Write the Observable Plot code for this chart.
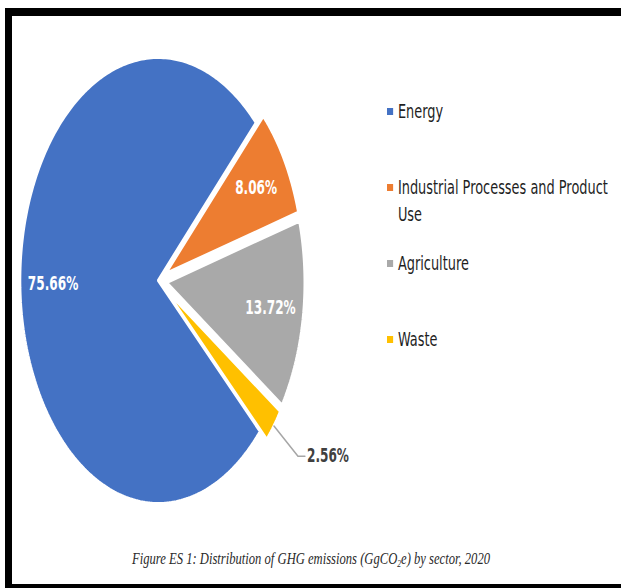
<!DOCTYPE html>
<html>
<head>
<meta charset="utf-8">
<script src="https://cdn.jsdelivr.net/npm/d3@7"></script>
<script src="https://cdn.jsdelivr.net/npm/@observablehq/plot@0.6"></script>
<style>
  html, body { margin: 0; padding: 0; background: #fff; width: 621px; height: 588px; overflow: hidden; position: relative; }
  #frame { position: absolute; left: 5px; top: 8px; width: 640px; height: 568px;
           border-top: 8px solid #000; border-left: 7px solid #000; border-bottom: 4px solid #000; background: #fff; }
  #chart { position: absolute; left: 0; top: 0; }
  #legend { position: absolute; left: 387px; top: 98px; transform: scaleX(0.68); transform-origin: 0 0;
            font-family: "DejaVu Sans", sans-serif; font-size: 19px; color: #1f1f1f; }
  .item { display: flex; align-items: flex-start; height: 76px; }
  .sw { width: 9px; height: 7px; margin-top: 10px; margin-right: 7px; flex: none; }
  .lab { line-height: 27px; width: 330px; }
  #caption { position: absolute; left: 132px; top: 549px; white-space: nowrap; display: inline-block;
             font-family: "Liberation Serif", serif; font-style: italic; font-size: 16.5px; line-height: 20px;
             color: #2a2a2a; transform-origin: 0 0; }
  #caption sub { font-size: 10px; vertical-align: -3px; line-height: 0; }
</style>
</head>
<body>
<div id="frame"></div>
<div id="chart"></div>
<div id="legend"></div>
<div id="caption">Figure ES 1: Distribution of GHG emissions (GgCO<sub>2</sub>e) by sector, 2020</div>
<script>
// ---- data ----
const sectors = ["Energy", "Industrial Processes and Product Use", "Agriculture", "Waste"];
const shares = [75.66, 8.06, 13.72, 2.56];
const colors = ["#4472C4", "#ED7D31", "#A9A9A9", "#FFC000"];

// ---- chart settings ----
const firstSliceAngle = 132.6;   // degrees clockwise from 12 o'clock
const explode = 0.06;            // explosion of the non-first slices (fraction of radius)
const W = 1000, H = 540, cx = 254.4, cy = 280, R = 223, screenW = 621;

const total = d3.sum(shares);
const rad = (d) => d * Math.PI / 180;
let acc = firstSliceAngle;
const slices = sectors.map((s, i) => {
  const a0 = acc, a1 = acc + shares[i] / total * 360;
  acc = a1;
  return {sector: s, share: shares[i], a0, a1, mid: (a0 + a1) / 2, off: i === 0 ? 0 : explode};
});
const pt = (sl, r, ang = sl.mid) => {
  const ox = sl.off * Math.sin(rad(sl.mid)), oy = sl.off * Math.cos(rad(sl.mid));
  return [ox + r * Math.sin(rad(ang)), oy + r * Math.cos(rad(ang))];
};

const outline = slices.flatMap((sl) => {
  const n = Math.max(2, Math.ceil(sl.a1 - sl.a0));
  const rows = [{sector: sl.sector, p: pt(sl, 0)}];
  for (let k = 0; k <= n; ++k) rows.push({sector: sl.sector, p: pt(sl, 1, sl.a0 + (sl.a1 - sl.a0) * k / n)});
  return rows;
});

const fmt = (v) => d3.format(".2f")(v) + "%";
const inside = slices.filter((d) => d.share >= 5);
const outside = slices.filter((d) => d.share < 5);
const leaders = outside.flatMap((sl) => {
  const a = pt(sl, 1.0), b = pt(sl, 1.22);
  return [{s: sl.sector, p: a}, {s: sl.sector, p: b}, {s: sl.sector, p: [b[0] + 0.05, b[1]]}];
});

const plot = Plot.plot({
  width: W, height: H, margin: 0,
  x: {domain: [-cx / R, (W - cx) / R], range: [0, W], axis: null},
  y: {domain: [-(H - cy) / R, cy / R], range: [H, 0], axis: null},
  color: {domain: sectors, range: colors},
  style: {background: "transparent", overflow: "visible"},
  marks: [
    Plot.line(outline, {x: (d) => d.p[0], y: (d) => d.p[1], z: "sector", fill: "sector",
      stroke: "white", strokeWidth: 3, strokeLinejoin: "miter", curve: "linear-closed"}),
    Plot.line(leaders, {x: (d) => d.p[0], y: (d) => d.p[1], z: "s", stroke: "#A6A6A6", strokeWidth: 1.5}),
    Plot.text(inside, {x: (d) => pt(d, 0.76)[0], y: (d) => pt(d, 0.76)[1], text: (d) => fmt(d.share),
      fill: "white", fontWeight: "bold", fontSize: 19.5, fontFamily: "DejaVu Sans"}),
    Plot.text(outside, {x: (d) => pt(d, 1.22)[0] + 0.065, y: (d) => pt(d, 1.22)[1], text: (d) => fmt(d.share),
      textAnchor: "start", fill: "#404040", fontWeight: "bold", fontSize: 19.5, fontFamily: "DejaVu Sans"})
  ]
});
plot.setAttribute("width", screenW);
plot.setAttribute("preserveAspectRatio", "none");
plot.style.width = screenW + "px";
plot.style.height = H + "px";
plot.style.maxWidth = "none";
plot.querySelectorAll("path").forEach((p) => p.setAttribute("vector-effect", "non-scaling-stroke"));
document.getElementById("chart").appendChild(plot);

// ---- legend ----
const legend = d3.select("#legend");
sectors.forEach((s, i) => {
  const it = legend.append("div").attr("class", "item");
  it.append("div").attr("class", "sw").style("background", colors[i]);
  it.append("div").attr("class", "lab").text(s);
});

// ---- caption fit ----
const cap = document.getElementById("caption");
cap.style.transform = `scaleX(${358 / cap.getBoundingClientRect().width})`;
</script>
</body>
</html>
